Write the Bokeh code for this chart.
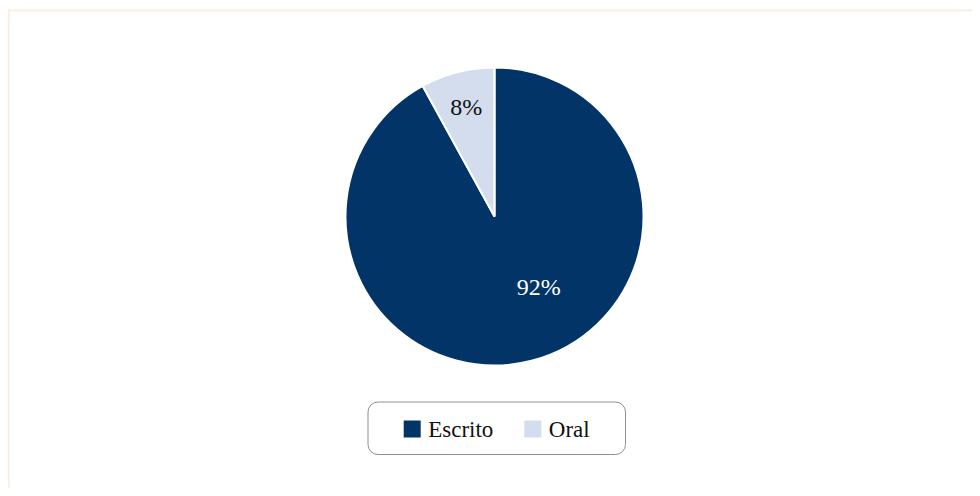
import math
from bokeh.plotting import figure
from bokeh.models import Range1d, BoxAnnotation, ColumnDataSource
from bokeh.core.properties import value
from bokeh.embed import file_html
from bokeh.resources import INLINE

# ---- data ----
categories = ["Escrito", "Oral"]
values = [92, 8]
colors = ["#023467", "#D3DDEE"]
label_colors = ["#FFFFFF", "#111111"]

# ---- layout (pixels) ----
W, H = 972, 488
CX, CY = 494, H - 216
R = 149
FONT = "Liberation Serif"

p = figure(width=W, height=H, output_backend="svg", toolbar_location=None,
           x_range=Range1d(0, W), y_range=Range1d(0, H), min_border=0)
p.axis.visible = False
p.grid.visible = False
p.outline_line_color = None
p.background_fill_color = "white"
p.border_fill_color = "white"

# container border (top and left visible)
p.add_layout(BoxAnnotation(left=7.5, right=9.5, bottom=0, top=H - 9, fill_color="#FDEEE2",
                           fill_alpha=1, line_color=None, level="underlay"))
p.add_layout(BoxAnnotation(left=7.5, right=W, bottom=H - 11, top=H - 9, fill_color="#FDEEE2",
                           fill_alpha=1, line_color=None, level="underlay"))

# ---- pie (clockwise from top) ----
total = sum(values)
starts, ends, mids = [], [], []
a = math.pi / 2
for v in values:
    span = 2 * math.pi * v / total
    starts.append(a)
    ends.append(a - span)
    mids.append(a - span / 2)
    a -= span

src = ColumnDataSource(dict(cat=categories, val=values, color=colors,
                            start=starts, end=ends))
p.wedge(x=CX, y=CY, radius=R, start_angle="start", end_angle="end",
        direction="clock", fill_color="color", line_color="white",
        line_width=2, source=src)

# label placement (layout constants): Escrito label at a fixed polar pos, Oral at mid angle
label_angles = [math.radians(302), mids[1]]
label_rfrac = [0.56, 0.76]
lx = [CX + R * f * math.cos(t) for f, t in zip(label_rfrac, label_angles)]
ly = [CY + R * f * math.sin(t) for f, t in zip(label_rfrac, label_angles)]
labels = [f"{v}%" for v in values]
p.text(x=lx, y=ly, text=labels, text_color=label_colors, text_align="center",
       text_baseline="middle", text_font=value(FONT), text_font_size="24px")

# ---- legend (manual) ----
p.add_layout(BoxAnnotation(left=367.5, right=625, bottom=H - 454, top=H - 401.5,
                           fill_color=None, fill_alpha=0, line_color="#8f8f8f",
                           line_alpha=1, line_width=1, border_radius=10))
sq_x = [411.7, 532.3]
sq_y = H - 428.5
p.rect(x=sq_x, y=[sq_y] * 2, width=17, height=17, fill_color=colors, line_color=None)
p.text(x=[s + 16 for s in sq_x], y=[sq_y] * 2, text=categories, text_color="#111111",
       text_align="left", text_baseline="middle", text_font=value(FONT),
       text_font_size="23px")

open("out.html", "w").write(file_html(p, INLINE))
